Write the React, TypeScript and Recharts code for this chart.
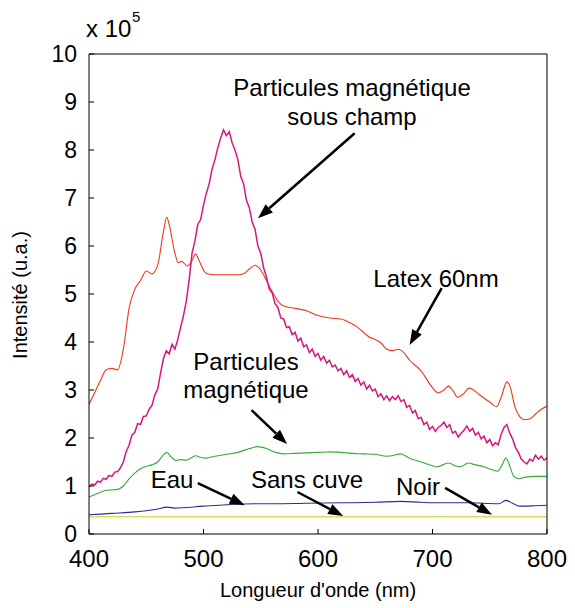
import React from 'react';
import { LineChart, Line, XAxis, YAxis, ReferenceLine } from 'recharts';

// wavelengths (nm) and intensities (x 10^5)
// noisy spectrum sampled every 2.5 nm from 400 nm
const sousChampY = [
  0.98, 1.04, 1.02, 1.1, 1.08, 1.16, 1.14, 1.22, 1.2, 1.29, 1.3, 1.38, 1.5, 1.72, 1.85, 2.06, 2.12, 2.3, 2.28, 2.45,
  2.46, 2.6, 2.68, 2.9, 3.02, 3.35, 3.65, 3.82, 3.75, 3.95, 3.85, 4.05, 4.3, 4.55, 4.85, 5.3, 5.85, 6.1, 6.45, 6.55,
  6.85, 7.1, 7.3, 7.6, 7.8, 8.05, 8.25, 8.42, 8.3, 8.38, 8.15, 8.0, 7.8, 7.45, 7.3, 6.95, 6.8, 6.5, 6.35, 6.0,
  5.85, 5.55, 5.35, 5.1, 5.02, 4.8, 4.72, 4.5, 4.48, 4.3, 4.32, 4.15, 4.2, 4.02, 4.08, 3.9, 3.94, 3.78, 3.85, 3.7,
  3.76, 3.62, 3.7, 3.56, 3.62, 3.48, 3.52, 3.4, 3.45, 3.32, 3.4, 3.26, 3.32, 3.18, 3.24, 3.1, 3.17, 3.02, 3.1, 2.98,
  3.02, 2.86, 2.92, 2.8, 2.88, 2.78, 2.86, 2.8, 2.88, 2.76, 2.8, 2.64, 2.68, 2.52, 2.57, 2.4, 2.43, 2.28, 2.33, 2.18,
  2.24, 2.14, 2.22, 2.26, 2.33, 2.22, 2.28, 2.1, 2.14, 2.02, 2.1, 2.16, 2.25, 2.14, 2.2, 2.06, 2.12, 1.98, 2.04, 1.9,
  1.97, 1.84, 1.9, 1.86, 2.08, 2.22, 2.28, 2.1, 1.98, 1.8, 1.7, 1.56, 1.5, 1.46, 1.56, 1.52, 1.64, 1.56, 1.62, 1.54,
  1.58,
];
const sousChampX = sousChampY.map((_, i) => 400 + i * 2.5);

const latexX = [400, 405, 410, 415, 420, 425, 430, 435, 440, 445, 450, 455, 460, 465, 468, 470, 475, 478, 481, 486, 490, 493, 497, 501, 505, 510, 520, 530, 535, 540, 545, 550, 555, 560, 565, 570, 580, 590, 600, 610, 620, 628, 635, 645, 650, 655, 660, 665, 670, 675, 680, 690, 700, 705, 710, 714, 718, 722, 727, 732, 737, 741, 750, 756, 760, 765, 768, 772, 776, 780, 785, 790, 795, 800];
const latexY = [2.7, 2.95, 3.2, 3.42, 3.45, 3.42, 3.85, 4.7, 5.1, 5.28, 5.48, 5.42, 5.6, 6.3, 6.6, 6.45, 5.85, 5.65, 5.68, 5.58, 5.7, 5.83, 5.65, 5.46, 5.41, 5.4, 5.4, 5.4, 5.42, 5.52, 5.6, 5.5, 5.28, 5.05, 4.85, 4.75, 4.7, 4.65, 4.55, 4.5, 4.48, 4.4, 4.3, 4.1, 4.05, 3.98, 3.85, 3.82, 3.85, 3.78, 3.62, 3.4, 3.05, 2.94, 3.0, 3.08, 2.98, 2.85, 2.92, 3.04, 2.98, 2.9, 2.75, 2.65, 2.85, 3.17, 3.05, 2.65, 2.45, 2.38, 2.4, 2.5, 2.6, 2.66];

const magX = [400, 405, 410, 415, 420, 425, 430, 435, 440, 445, 450, 455, 460, 465, 468, 472, 476, 480, 485, 490, 493, 497, 502, 510, 520, 530, 540, 547, 555, 563, 570, 580, 590, 600, 610, 620, 630, 640, 650, 660, 665, 672, 680, 690, 700, 704, 709, 714, 719, 724, 728, 731, 736, 745, 757, 761, 764, 767, 771, 776, 780, 790, 800];
const magY = [0.77, 0.82, 0.87, 0.91, 0.92, 0.93, 1.0, 1.15, 1.27, 1.36, 1.41, 1.44, 1.5, 1.65, 1.7, 1.6, 1.53, 1.55, 1.54, 1.6, 1.63, 1.6, 1.58, 1.62, 1.66, 1.7, 1.78, 1.82, 1.78, 1.7, 1.67, 1.68, 1.69, 1.7, 1.71, 1.7, 1.68, 1.67, 1.66, 1.62, 1.63, 1.67, 1.58, 1.5, 1.42, 1.4, 1.44, 1.48, 1.43, 1.4, 1.44, 1.48, 1.45, 1.4, 1.31, 1.45, 1.58, 1.45, 1.2, 1.15, 1.18, 1.2, 1.2];

const eauX = [400, 420, 440, 460, 468, 475, 500, 520, 545, 560, 590, 620, 650, 672, 690, 705, 730, 758, 764, 770, 776, 790, 800];
const eauY = [0.4, 0.43, 0.46, 0.52, 0.56, 0.54, 0.58, 0.61, 0.63, 0.63, 0.64, 0.65, 0.66, 0.68, 0.66, 0.65, 0.65, 0.63, 0.7, 0.64, 0.58, 0.59, 0.6];

const fondX = [400, 500, 600, 700, 800];
const noirY = [0.36, 0.36, 0.36, 0.36, 0.36];
const sansCuveY = [0.36, 0.36, 0.36, 0.36, 0.36];

const xTicks = [400, 500, 600, 700, 800];
const yTicks = [0, 1, 2, 3, 4, 5, 6, 7, 8, 9, 10];

const toPoints = (xs: number[], ys: number[]) => xs.map((x, i) => ({ x, y: ys[i] }));

// annotation arrows: [from, to] in data units
const arrows = [
  [{ x: 632, y: 8.35 }, { x: 547.6, y: 6.58 }],
  [{ x: 708, y: 5.12 }, { x: 680, y: 3.94 }],
  [{ x: 542, y: 2.58 }, { x: 573, y: 1.875 }],
  [{ x: 495, y: 1.06 }, { x: 536, y: 0.6 }],
  [{ x: 582, y: 0.875 }, { x: 622, y: 0.375 }],
  [{ x: 711, y: 0.96 }, { x: 752, y: 0.4 }],
];

const FONT = '"Liberation Sans", Arial, Helvetica, sans-serif';

const Arrow = (props: any) => {
  const { x1, y1, x2, y2 } = props;
  const a = Math.atan2(y2 - y1, x2 - x1);
  const len = 15;
  const w = 5.5;
  const bx = x2 - len * Math.cos(a);
  const by = y2 - len * Math.sin(a);
  const p1 = `${bx + w * Math.sin(a)},${by - w * Math.cos(a)}`;
  const p2 = `${bx - w * Math.sin(a)},${by + w * Math.cos(a)}`;
  return (
    <g>
      <line x1={x1} y1={y1} x2={bx} y2={by} stroke="#000" strokeWidth={2.5} />
      <polygon points={`${x2},${y2} ${p1} ${p2}`} fill="#000" />
    </g>
  );
};

const xTickStyle = { fontSize: 24, fill: '#000', fontFamily: FONT };
const yTickStyle = { fontSize: 23, fill: '#000', fontFamily: FONT };

export default function App() {
  return (
    <div style={{ position: 'relative', width: 567, height: 600, fontFamily: FONT }}>
      <LineChart width={567} height={600} margin={{ top: 46, right: 28, left: 0, bottom: 0 }}>
        <XAxis
          dataKey="x"
          type="number"
          domain={[400, 800]}
          ticks={xTicks}
          allowDataOverflow
          height={74}
          tickSize={-5}
          tickMargin={21}
          tick={xTickStyle}
          stroke="#000"
        />
        <XAxis
          xAxisId="top"
          orientation="top"
          mirror
          dataKey="x"
          type="number"
          domain={[400, 800]}
          ticks={xTicks}
          allowDataOverflow
          tick={false}
          stroke="#000"
        />
        <YAxis
          type="number"
          domain={[0, 10]}
          ticks={yTicks}
          allowDataOverflow
          width={81}
          tickSize={-5}
          tickMargin={17}
          tick={yTickStyle}
          stroke="#000"
        />
        <YAxis
          yAxisId="right"
          orientation="right"
          mirror
          type="number"
          domain={[0, 10]}
          ticks={yTicks}
          allowDataOverflow
          tick={false}
          stroke="#000"
        />
        <Line data={toPoints(fondX, noirY)} dataKey="y" stroke="#c8c830" strokeWidth={1} dot={false} isAnimationActive={false} />
        <Line data={toPoints(fondX, sansCuveY)} dataKey="y" stroke="#e8e24a" strokeWidth={1.5} strokeDasharray="1 1" dot={false} isAnimationActive={false} />
        <Line data={toPoints(eauX, eauY)} type="monotone" dataKey="y" stroke="#2e2a9a" strokeWidth={1.1} dot={false} isAnimationActive={false} />
        <Line data={toPoints(magX, magY)} type="monotone" dataKey="y" stroke="#3aa83a" strokeWidth={1.1} dot={false} isAnimationActive={false} />
        <Line data={toPoints(latexX, latexY)} type="monotone" dataKey="y" stroke="#f0361e" strokeWidth={1.1} dot={false} isAnimationActive={false} />
        <Line data={toPoints(sousChampX, sousChampY)} type="linear" dataKey="y" stroke="#d6177c" strokeWidth={1.5} dot={false} isAnimationActive={false} />
        {arrows.map((seg, i) => (
          <ReferenceLine key={i} segment={seg} shape={Arrow} ifOverflow="visible" />
        ))}
      </LineChart>
      <svg width={567} height={600} style={{ position: 'absolute', left: 0, top: 0, pointerEvents: 'none' }}>
        <g fontFamily={FONT} fill="#000">
          <text x={78} y={29} fontSize={24}>x 10</text>
          <text x={124} y={14} fontSize={15}>5</text>
          <text x={344} y={88} fontSize={24} textAnchor="middle">Particules magnétique</text>
          <text x={344} y={117} fontSize={24} textAnchor="middle">sous champ</text>
          <text x={428} y={279} fontSize={24} textAnchor="middle">Latex 60nm</text>
          <text x={238} y={362} fontSize={24} textAnchor="middle">Particules</text>
          <text x={238} y={390} fontSize={24} textAnchor="middle">magnétique</text>
          <text x={164} y={480} fontSize={24} textAnchor="middle">Eau</text>
          <text x={299} y={480} fontSize={24} textAnchor="middle">Sans cuve</text>
          <text x={410} y={487} fontSize={24} textAnchor="middle">Noir</text>
          <text x={310} y={589} fontSize={20} textAnchor="middle">Longueur d'onde (nm)</text>
          <text x={19} y={287} fontSize={20} textAnchor="middle" transform="rotate(-90 19 287)">Intensité (u.a.)</text>
        </g>
      </svg>
    </div>
  );
}
